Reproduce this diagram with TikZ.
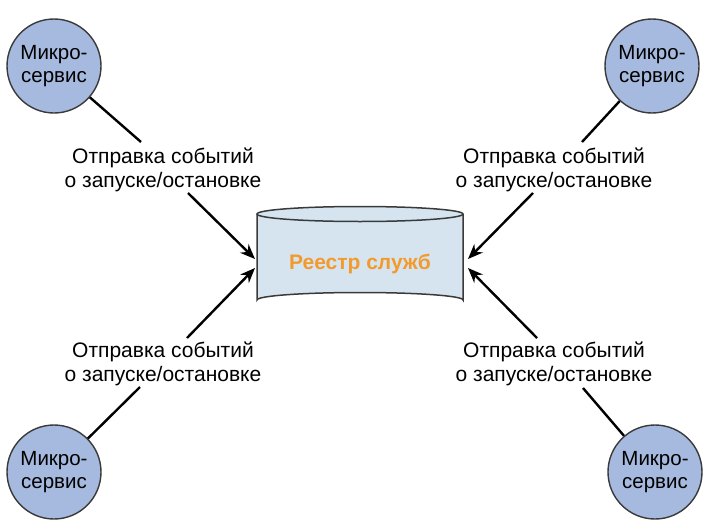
\documentclass[tikz,border=0pt]{standalone}
\usepackage{fontspec}
\setmainfont{Liberation Sans}
\usetikzlibrary{arrows.meta}
\definecolor{svcfill}{HTML}{A6B9DE}
\definecolor{regfill}{HTML}{D6E4F0}
\definecolor{regtext}{HTML}{F39A2C}
\definecolor{edge}{HTML}{3A3A3A}
\tikzset{
  svc/.style={circle, draw=edge, line width=1.4pt, fill=svcfill, minimum size=94pt, inner sep=0pt,
    align=center, font=\fontsize{20.5}{23}\selectfont},
  lbl/.style={align=center, inner sep=0pt, font=\fontsize{21}{24}\selectfont},
  link/.style={draw=black, line width=2.4pt},
  arr/.style={draw=black, line width=2.4pt, -{Stealth[length=15pt,width=12pt]}},
}
\begin{document}
\begin{tikzpicture}[x=1pt,y=-1pt]
\useasboundingbox (0,0) rectangle (706,522);
% cylinder
\fill[regfill] (257,214) -- (257,300) arc[start angle=180,end angle=360,x radius=103,y radius=7.5] -- (463,214) -- cycle;
\draw[edge, line width=1.5pt] (257,214) -- (257,300) arc[start angle=180,end angle=360,x radius=103,y radius=7.5] -- (463,214);
\draw[edge, line width=1.5pt, fill=regfill] (360,214) ellipse[x radius=103,y radius=7.5];
\node[font=\fontsize{21}{24}\selectfont\bfseries, text=regtext] (reg) at (360,264) {Реестр служб};
\coordinate (t1) at (255,259);
\coordinate (t2) at (468,259);
\coordinate (t3) at (255,268);
\coordinate (t4) at (468,268);
% services
\node[svc] (c1) at (54,66) {Микро-\\сервис};
\node[svc] (c2) at (652,66) {Микро-\\сервис};
\node[svc] (c3) at (54,472) {Микро-\\сервис};
\node[svc] (c4) at (655,472) {Микро-\\сервис};
% labels
\node[lbl] (l1) at (163,170) {Отправка событий\\о запуске/остановке};
\node[lbl] (l2) at (554,170) {Отправка событий\\о запуске/остановке};
\node[lbl] (l3) at (163,364) {Отправка событий\\о запуске/остановке};
\node[lbl] (l4) at (554,364) {Отправка событий\\о запуске/остановке};
% line ends / arrow starts
\coordinate (e1) at (141,142);
\coordinate (e2) at (582,142);
\coordinate (e3) at (140,387);
\coordinate (e4) at (583,388);
\coordinate (s1) at (188,193);
\coordinate (s2) at (533,193);
\coordinate (s3) at (187,338);
\coordinate (s4) at (537,338);
\draw[link] (c1) -- (e1);
\draw[link] (c2) -- (e2);
\draw[link] (c3) -- (e3);
\draw[link] (c4) -- (e4);
\draw[arr] (s1) -- (t1);
\draw[arr] (s2) -- (t2);
\draw[arr] (s3) -- (t3);
\draw[arr] (s4) -- (t4);
\end{tikzpicture}
\end{document}
